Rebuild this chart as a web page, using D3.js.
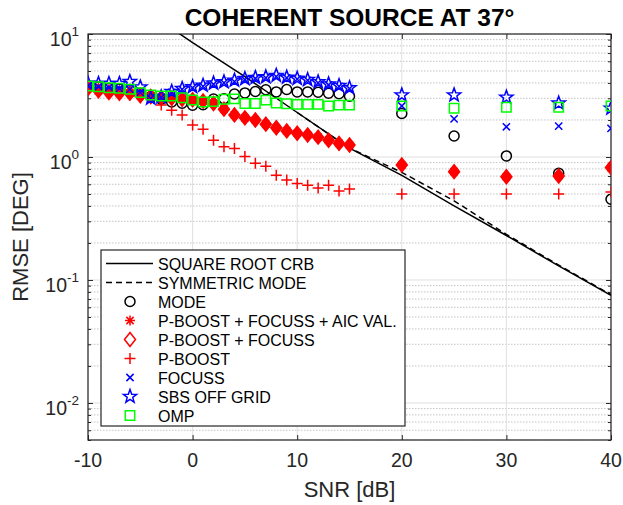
<!DOCTYPE html>
<html><head><meta charset="utf-8">
<script src="https://cdn.jsdelivr.net/npm/d3@7"></script>
<style>body{margin:0;background:#fff;} svg{display:block;font-family:"Liberation Sans",Arial,Helvetica,sans-serif;}</style>
</head><body><svg id="c" width="623" height="505"></svg>
<script>
// ---------------- data ----------------
const snr = [-10,-9,-8,-7,-6,-5,-4,-3,-2,-1,0,1,2,3,4,5,6,7,8,9,10,11,12,13,14,15,20,25,30,35,40];
const crbSnr = [-10,-5,0,5,10,15,20,25,30,35,40];
const crb = [33,16.6,8.5,4.5,2.3,1.18,0.71,0.40,0.23,0.13,0.075];
const symSnr = [10,15,20,25,30,35,40];
const symMode = [2.3,1.18,0.75,0.44,0.235,0.132,0.076];
const mode = [3.8,3.7,3.6,3.55,3.5,3.3,3.1,2.95,2.8,2.74,2.64,2.66,2.96,2.97,3.25,3.32,3.41,3.52,3.38,3.54,3.38,3.38,3.36,3.3,3.27,3.12,2.26,1.48,1.02,0.737,0.453];
const pbFocAic = [3.6,3.45,3.35,3.3,3.3,3.15,3.1,3.05,3.0,2.95,2.92,2.85,2.72,2.45,2.2,2.08,2.0,1.85,1.73,1.63,1.56,1.51,1.45,1.37,1.29,1.25,0.86,0.76,0.69,0.70,0.82];
const pbFoc = [3.6,3.45,3.35,3.3,3.3,3.15,3.1,3.05,3.0,2.95,2.92,2.85,2.72,2.45,2.2,2.08,2.0,1.85,1.73,1.63,1.56,1.51,1.45,1.37,1.29,1.25,0.86,0.76,0.69,0.70,0.82];
const pBoost = [3.75,3.55,3.45,3.35,3.3,3.1,3.0,2.65,2.4,2.19,1.82,1.68,1.37,1.21,1.17,1.01,0.89,0.84,0.71,0.65,0.61,0.59,0.56,0.59,0.53,0.55,0.5,0.5,0.5,0.5,0.52];
const focuss = [3.8,3.73,3.66,3.6,3.55,3.35,3.0,3.05,3.35,3.55,3.65,3.75,3.9,4.0,4.1,4.25,4.35,4.4,4.5,4.4,4.3,4.2,4.0,3.85,3.75,3.6,2.6,2.04,1.76,1.78,1.71];
const sbs = [3.97,3.95,3.95,3.95,4.1,3.7,3.0,3.08,3.4,3.6,3.72,3.82,3.98,4.08,4.2,4.33,4.42,4.48,4.6,4.45,4.35,4.25,4.08,3.92,3.8,3.65,3.19,3.19,3.06,2.74,2.49];
const omp = [3.78,3.73,3.66,3.62,3.55,3.34,3.19,3.13,3.13,3.03,2.91,2.8,2.82,2.95,2.97,2.72,2.72,2.9,2.75,2.71,2.68,2.68,2.68,2.6,2.64,2.64,2.6,2.49,2.54,2.54,2.6];
const xTicks = [-10,0,10,20,30,40];
const yTickExp = [-2,-1,0,1];
const legendLabels = ["SQUARE ROOT CRB","SYMMETRIC MODE","MODE","P-BOOST + FOCUSS + AIC VAL.","P-BOOST + FOCUSS","P-BOOST","FOCUSS","SBS OFF GRID","OMP"];
const titleText = "COHERENT SOURCE AT 37°";

// ---------------- layout ----------------
const L = 88, R = 611, T = 34, B = 440;
const axisCol = "#262626";
const svg = d3.select("#c");
const x = d3.scaleLinear().domain([-10, 40]).range([L, R]);
const y = d3.scaleLog().domain([0.005, 10]).range([B, T]);

svg.append("defs").append("clipPath").attr("id","clip")
  .append("rect").attr("x",L).attr("y",T).attr("width",R-L).attr("height",B-T);

const minorVals = [];
[-3,-2,-1,0].forEach(e => { for (let k=2;k<=9;k++){ const v=k*Math.pow(10,e); if (v>=0.005 && v<10) minorVals.push(v);} });

// grid
const grid = svg.append("g");
grid.selectAll("line.mn").data(minorVals).join("line")
  .attr("x1",L).attr("x2",R).attr("y1",d=>y(d)).attr("y2",d=>y(d))
  .attr("stroke","#c4c4c4").attr("stroke-width",1).attr("stroke-dasharray","1.5,1.5");
grid.selectAll("line.mj").data(yTickExp.map(e=>Math.pow(10,e))).join("line")
  .attr("x1",L).attr("x2",R).attr("y1",d=>y(d)).attr("y2",d=>y(d))
  .attr("stroke","#e0e0e0").attr("stroke-width",1);
grid.selectAll("line.vx").data(xTicks).join("line")
  .attr("x1",d=>x(d)).attr("x2",d=>x(d)).attr("y1",T).attr("y2",B)
  .attr("stroke","#e0e0e0").attr("stroke-width",1);

// axes with inward ticks
const axB = svg.append("g").attr("transform",`translate(0,${B})`)
  .call(d3.axisBottom(x).tickValues(xTicks).tickSize(-5).tickFormat(""));
const axTop = svg.append("g").attr("transform",`translate(0,${T})`)
  .call(d3.axisTop(x).tickValues(xTicks).tickSize(-5).tickFormat(""));
const axLmin = svg.append("g").attr("transform",`translate(${L},0)`)
  .call(d3.axisLeft(y).tickValues(minorVals).tickSize(-3).tickFormat(""));
const axLmaj = svg.append("g").attr("transform",`translate(${L},0)`)
  .call(d3.axisLeft(y).tickValues(yTickExp.map(e=>Math.pow(10,e))).tickSize(-5).tickFormat(""));
const axRmin = svg.append("g").attr("transform",`translate(${R},0)`)
  .call(d3.axisRight(y).tickValues(minorVals).tickSize(-3).tickFormat(""));
const axRmaj = svg.append("g").attr("transform",`translate(${R},0)`)
  .call(d3.axisRight(y).tickValues(yTickExp.map(e=>Math.pow(10,e))).tickSize(-5).tickFormat(""));
[axB,axTop,axLmin,axLmaj,axRmin,axRmaj].forEach(g=>{
  g.select(".domain").remove();
  g.selectAll(".tick line").attr("stroke",axisCol).attr("stroke-width",1);
});
svg.append("rect").attr("x",L).attr("y",T).attr("width",R-L).attr("height",B-T)
  .attr("fill","none").attr("stroke",axisCol).attr("stroke-width",1.2);

// tick labels
svg.append("g").selectAll("text").data(xTicks).join("text")
  .attr("x",d=>x(d)).attr("y",467).attr("text-anchor","middle")
  .attr("font-size",19.5).attr("fill",axisCol).text(d=>d);
const yl = svg.append("g").selectAll("text").data(yTickExp).join("text")
  .attr("x",79).attr("y",e=>y(Math.pow(10,e))+12).attr("text-anchor","end")
  .attr("font-size",19.5).attr("fill",axisCol);
yl.append("tspan").text("10");
yl.append("tspan").attr("dy",-10).attr("font-size",13.5).text(e=>e);

// axis labels and title
svg.append("text").attr("x",(L+R)/2).attr("y",497).attr("text-anchor","middle")
  .attr("font-size",22).attr("fill",axisCol).text("SNR [dB]");
svg.append("text").attr("transform",`translate(28,${(T+B)/2}) rotate(-90)`).attr("text-anchor","middle")
  .attr("font-size",22).attr("fill",axisCol).text("RMSE [DEG]");
svg.append("text").attr("x",(L+R)/2).attr("y",26).attr("text-anchor","middle")
  .attr("font-size",24.5).attr("font-weight","bold").attr("fill","#000").text(titleText);

// markers
function starPath(ro, ri){
  let p=""; for(let i=0;i<10;i++){const r=i%2?ri:ro; const a=-Math.PI/2+i*Math.PI/5;
    p+=(i?"L":"M")+(r*Math.cos(a)).toFixed(2)+","+(r*Math.sin(a)).toFixed(2);} return p+"Z";
}
const shapes = {
  circle: {d: d3.symbol(d3.symbolCircle, Math.PI*25)(), fill:false},
  asterisk: {d:"M-5,0H5M0,-5V5M-3.6,-3.6L3.6,3.6M-3.6,3.6L3.6,-3.6", fill:false},
  diamond: {d:"M0,-7L5.5,0L0,7L-5.5,0Z", fill:true},
  plus: {d:"M-5.5,0H5.5M0,-5.5V5.5", fill:false},
  cross: {d:"M-3.6,-3.6L3.6,3.6M-3.6,3.6L3.6,-3.6", fill:false},
  star: {d: starPath(7,2.9), fill:false},
  square: {d:"M-4.7,-4.7h9.4v9.4h-9.4Z", fill:false}
};
const series = [
  {vals:mode, shape:"circle", color:"#000000"},
  {vals:pbFocAic, shape:"asterisk", color:"#ff0000"},
  {vals:pbFoc, shape:"diamond", color:"#ff0000"},
  {vals:pBoost, shape:"plus", color:"#ff0000"},
  {vals:focuss, shape:"cross", color:"#0000ff"},
  {vals:sbs, shape:"star", color:"#0000ff"},
  {vals:omp, shape:"square", color:"#00ff00"}
];

const plot = svg.append("g").attr("clip-path","url(#clip)");
const line = d3.line().x(d=>x(d[0])).y(d=>y(d[1]));
plot.append("path").datum(crbSnr.map((s,i)=>[s,crb[i]])).attr("d",line)
  .attr("fill","none").attr("stroke","#000").attr("stroke-width",1.5);
plot.append("path").datum(symSnr.map((s,i)=>[s,symMode[i]])).attr("d",line)
  .attr("fill","none").attr("stroke","#000").attr("stroke-width",1.5).attr("stroke-dasharray","6,4");

function drawShape(sel, s, color, filled){
  const sh = shapes[s];
  sel.attr("d",sh.d).attr("fill",(filled && sh.fill)?color:"none")
    .attr("stroke",color).attr("stroke-width",1.5);
}
series.forEach(se=>{
  plot.append("g").selectAll("path").data(snr.map((s,i)=>[s,se.vals[i]])).join("path")
    .attr("transform",d=>`translate(${x(d[0])},${y(d[1])})`)
    .call(sel=>drawShape(sel, se.shape, se.color, true));
});

// legend
const lg = svg.append("g");
lg.append("rect").attr("x",101).attr("y",250).attr("width",304).attr("height",176)
  .attr("fill","#fff").attr("stroke",axisCol).attr("stroke-width",1.2);
const rowY = i => 263.5 + i*19;
lg.append("line").attr("x1",106).attr("x2",153).attr("y1",rowY(0)).attr("y2",rowY(0))
  .attr("stroke","#000").attr("stroke-width",1.5);
lg.append("line").attr("x1",106).attr("x2",153).attr("y1",rowY(1)).attr("y2",rowY(1))
  .attr("stroke","#000").attr("stroke-width",1.5).attr("stroke-dasharray","6,4");
series.forEach((se,i)=>{
  lg.append("path").attr("transform",`translate(130,${rowY(i+2)})`)
    .call(sel=>drawShape(sel, se.shape, se.color, false));
});
lg.selectAll("text").data(legendLabels).join("text")
  .attr("x",158).attr("y",(d,i)=>rowY(i)+6).attr("font-size",16).attr("fill","#000").text(d=>d);
</script></body></html>
